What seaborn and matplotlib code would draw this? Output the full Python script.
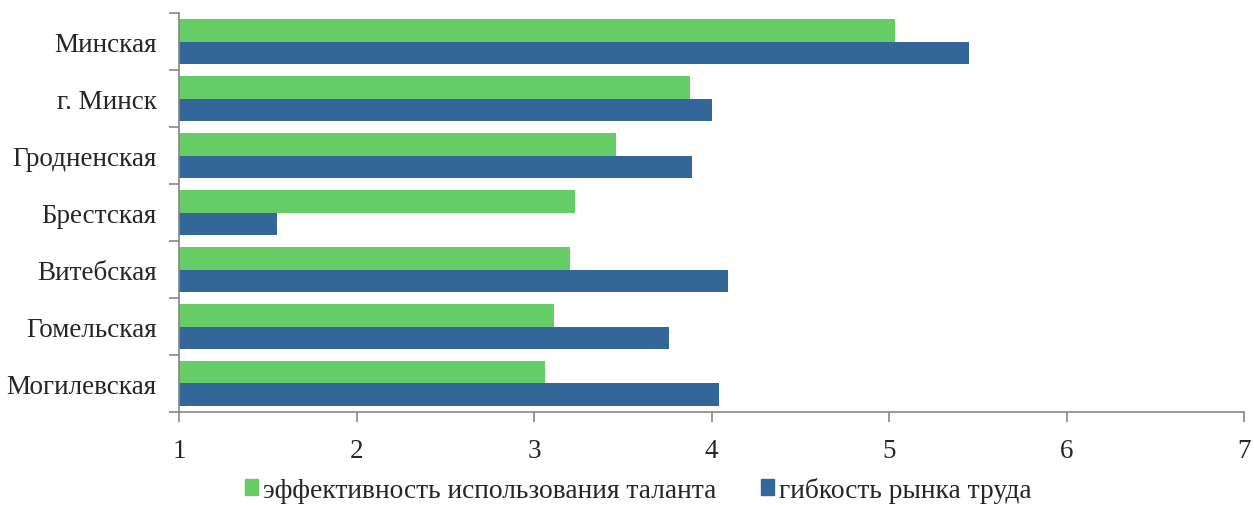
import matplotlib
matplotlib.use("Agg")
from matplotlib import pyplot as plt
from matplotlib.patches import Patch
import pandas as pd
import seaborn as sns
import numpy as np

regions = ['Минская', 'г. Минск', 'Гродненская', 'Брестская', 'Витебская', 'Гомельская', 'Могилевская']
talent = [5.03, 3.88, 3.46, 3.23, 3.20, 3.11, 3.06]
flex = [5.45, 4.00, 3.89, 1.55, 4.09, 3.76, 4.04]
series = ['эффективность использования таланта', 'гибкость рынка труда']
colors = ['#66CC66', '#336699']

df = pd.DataFrame({
    'region': regions * 2,
    'value': talent + flex,
    'series': [series[0]] * len(regions) + [series[1]] * len(regions),
})

sns.set_style('white')
plt.rcParams['font.family'] = ['Liberation Serif', 'DejaVu Serif']

fig = plt.figure(figsize=(12.54, 5.06), dpi=100)
ax = fig.add_axes([0.1427, 0.1838, 0.8496, 0.7885])

sns.barplot(data=df, y='region', x='value', hue='series', order=regions,
            hue_order=series, palette=colors, width=0.8, linewidth=0,
            saturation=1, ax=ax, legend=False)

ax.set_xlim(1, 7)
ax.set_ylim(len(regions) - 0.5, -0.5)
ax.set_xticks(range(1, 8))
ax.set_xlabel('')
ax.set_ylabel('')

# category labels in the middle, tick marks on the boundaries
ax.set_yticks(range(len(regions)))
ax.set_yticklabels(regions)
ax.set_yticks(np.arange(-0.5, len(regions), 1), minor=True)
ax.tick_params(axis='y', which='major', length=0, labelsize=19.5, pad=16)
ax.tick_params(axis='y', which='minor', length=7, width=1.2, color='#868686', left=True)
ax.tick_params(axis='x', length=7, width=1.2, color='#868686', labelsize=19.5, bottom=True, pad=12)

for s in ['top', 'right']:
    ax.spines[s].set_visible(False)
for s in ['left', 'bottom']:
    ax.spines[s].set_color('#868686')
    ax.spines[s].set_linewidth(1.2)

handles = [Patch(color=c) for c in colors]
fig.legend(handles, series, loc='center', bbox_to_anchor=(0.509, 0.03), ncol=2,
           frameon=False, fontsize=19.8, handlelength=0.48, handleheight=0.48,
           handletextpad=0.2, columnspacing=1.6, borderpad=0.1)

fig.savefig('out.png', dpi=100)
plt.close()
